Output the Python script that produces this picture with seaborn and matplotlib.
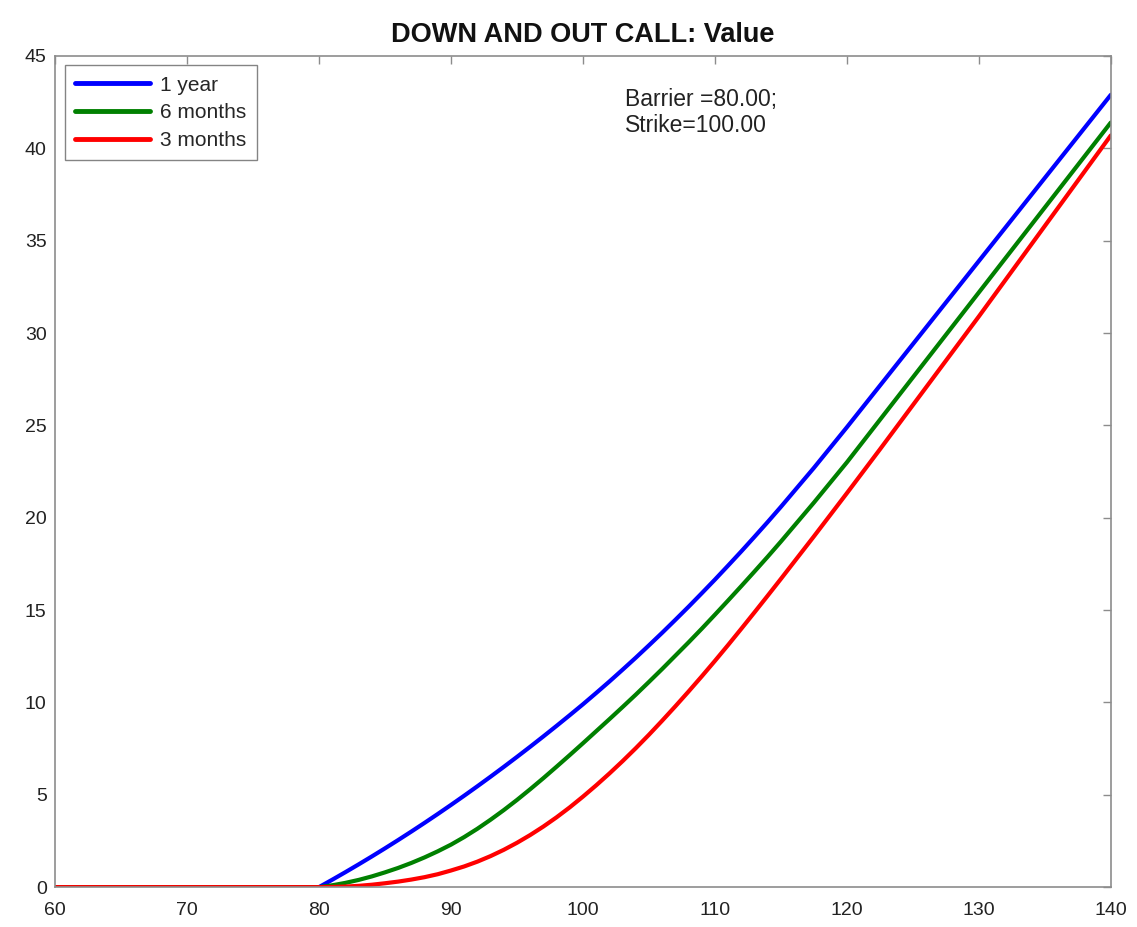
import matplotlib
matplotlib.use("Agg")
import matplotlib.pyplot as plt
import seaborn as sns
import pandas as pd

spot = [60, 70, 80, 81, 82, 83, 84, 85, 86, 87, 88, 89, 90, 91, 92, 93, 94, 95, 96, 97, 98, 99,
        100, 101, 102, 103, 104, 105, 106, 107, 108, 109, 110, 111, 112, 113, 114, 115,
        117.5, 120, 122.5, 125, 127.5, 130, 132.5, 135, 137.5, 140]
value_1y = [0, 0, 0, 0.40, 0.81, 1.23, 1.66, 2.10, 2.55, 3.01, 3.48, 3.96, 4.45, 4.95, 5.46,
            5.98, 6.51, 7.05, 7.60, 8.16, 8.73, 9.31, 9.90, 10.51, 11.13, 11.77, 12.42, 13.09,
            13.77, 14.47, 15.18, 15.91, 16.65, 17.41, 18.18, 18.97, 19.77, 20.59, 22.70, 24.90,
            27.15, 29.40, 31.65, 33.90, 36.15, 38.40, 40.65, 42.90]
value_6m = [0, 0, 0, 0.10, 0.23, 0.39, 0.58, 0.80, 1.04, 1.31, 1.61, 1.94, 2.30, 2.71, 3.16,
            3.65, 4.17, 4.72, 5.30, 5.90, 6.52, 7.15, 7.79, 8.44, 9.09, 9.75, 10.42, 11.11,
            11.81, 12.53, 13.25, 13.99, 14.75, 15.52, 16.30, 17.09, 17.89, 18.71, 20.82, 23.00,
            25.30, 27.60, 29.90, 32.20, 34.50, 36.80, 39.10, 41.40]
value_3m = [0, 0, 0, 0.01, 0.03, 0.07, 0.13, 0.21, 0.30, 0.41, 0.54, 0.70, 0.90, 1.12, 1.38,
            1.68, 2.02, 2.40, 2.82, 3.28, 3.78, 4.32, 4.90, 5.51, 6.15, 6.82, 7.52, 8.25, 9.01,
            9.79, 10.59, 11.41, 12.25, 13.11, 13.99, 14.88, 15.78, 16.69, 18.99, 21.33, 23.70,
            26.10, 28.50, 30.90, 33.35, 35.80, 38.25, 40.70]
series_names = ["1 year", "6 months", "3 months"]
series_colors = ["#0000ff", "#008000", "#ff0000"]
x_ticks = [60, 70, 80, 90, 100, 110, 120, 130, 140]
y_ticks = [0, 5, 10, 15, 20, 25, 30, 35, 40, 45]

df = pd.DataFrame({
    "spot": spot * 3,
    "value": value_1y + value_6m + value_3m,
    "maturity": [series_names[0]] * len(spot) + [series_names[1]] * len(spot) + [series_names[2]] * len(spot),
})

sns.set_theme(style="white")
plt.rcParams["font.family"] = ["Liberation Sans", "DejaVu Sans"]

fig = plt.figure(figsize=(11.37, 9.27), dpi=100)
ax = fig.add_axes([0.0484, 0.043, 0.9286, 0.8966])

sns.lineplot(data=df, x="spot", y="value", hue="maturity", hue_order=series_names,
             palette=dict(zip(series_names, series_colors)), linewidth=3.0, ax=ax,
             estimator=None, sort=True)

ax.set_xlim(60, 140)
ax.set_ylim(0, 45)
ax.set_xticks(x_ticks)
ax.set_yticks(y_ticks)
ax.set_xlabel("")
ax.set_ylabel("")
for s in ax.spines.values():
    s.set_visible(True)
    s.set_color("#8c8c8c")
    s.set_linewidth(1.2)
ax.tick_params(axis="both", which="both", direction="in", length=6, width=1.0,
               color="#8c8c8c", top=True, right=True, labelsize=14, labelcolor="#222222")
ax.tick_params(axis="x", pad=11)
ax.tick_params(axis="y", pad=6)

ax.set_title("DOWN AND OUT CALL: Value", fontsize=19.5, fontweight="bold", color="#111111", pad=10)

leg = ax.legend(loc="upper left", bbox_to_anchor=(0.0095, 0.989), fontsize=15, frameon=True,
                fancybox=False, edgecolor="#666666", handlelength=3.6, borderpad=0.5,
                labelspacing=0.42, handletextpad=0.45, borderaxespad=0.0)
leg.get_frame().set_linewidth(1.0)
for ln in leg.get_lines():
    ln.set_linewidth(3.5)

ax.text(0.54, 0.962, "Barrier =80.00;\nStrike=100.00", transform=ax.transAxes,
        ha="left", va="top", fontsize=16.5, color="#222222", linespacing=1.2)

fig.savefig("out.png", dpi=100, facecolor="white")
